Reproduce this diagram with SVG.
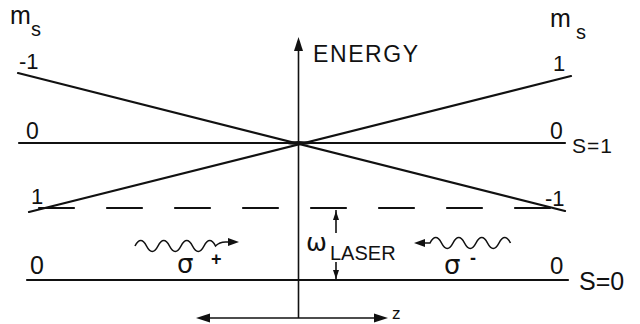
<svg xmlns="http://www.w3.org/2000/svg" width="640" height="324" viewBox="0 0 640 324">
<style>
.t{font-family:"Liberation Sans","DejaVu Sans",sans-serif;fill:#111}
.g{font-family:"DejaVu Sans","Liberation Sans",sans-serif;fill:#111}
.ln{stroke:#111;stroke-width:2.2;fill:none;stroke-linecap:round}
.ax{stroke:#111;stroke-width:1.6;fill:none}
.ah{fill:#111;stroke:none}
</style>
<rect width="640" height="324" fill="#fff"/>
<g id="connectors">
  <!-- energy axis -->
  <line class="ax" x1="298.5" y1="48" x2="298.5" y2="318"/>
  <polygon class="ah" points="298.5,37 294,51 303,51"/>
  <!-- z axis -->
  <line class="ax" x1="205" y1="318" x2="380" y2="318"/>
  <polygon class="ah" points="196,318 210,313.5 210,322.5"/>
  <polygon class="ah" points="388,318 374,313.5 374,322.5"/>
  <!-- S=1 levels -->
  <line class="ln" x1="19" y1="143" x2="565" y2="143"/>
  <line class="ln" x1="18" y1="73" x2="565" y2="211"/>
  <line class="ln" x1="29" y1="212" x2="571" y2="76"/>
  <path class="ah" d="M282,143 Q298,139 316,143 Q298,147 282,143 Z"/>
  <!-- dashed laser level -->
  <line class="ln" x1="39" y1="208" x2="550" y2="208" stroke-dasharray="35 33" stroke-linecap="butt"/>
  <!-- S=0 level -->
  <line class="ln" x1="27" y1="280" x2="568" y2="280"/>
  <!-- omega laser arrows -->
  <line class="ax" x1="336" y1="210" x2="336" y2="233" stroke-width="1.4"/>
  <polygon class="ah" points="336,211 333,220 339,220"/>
  <line class="ax" x1="336" y1="262" x2="336" y2="279" stroke-width="1.4"/>
  <polygon class="ah" points="336,279 333,270 339,270"/>
  <!-- sigma+ wave -->
  <path class="ax" d="M135,246 q5.75,-11 11.5,0 t11.5,0 t11.5,0 t11.5,0 t11.5,0 t11.5,0 t11.5,0 q4,-4 10,-4 L230,242"/>
  <polygon class="ah" points="239,242 228,238 228,246"/>
  <!-- sigma- wave -->
  <path class="ax" d="M424,243 L430,243 q5.75,-11 11.5,0 t11.5,0 t11.5,0 t11.5,0 t11.5,0 t11.5,0 t11.5,0"/>
  <polygon class="ah" points="414,243 425,239 425,247"/>
</g>
<g id="labels-left">
  <text class="t" x="10" y="24" font-size="25">m</text>
  <text class="t" x="31" y="36" font-size="20">s</text>
  <text class="t" x="19" y="69" font-size="22">-1</text>
  <text class="t" x="26" y="139" font-size="23">0</text>
  <text class="t" x="31" y="204" font-size="22">1</text>
  <text class="t" x="30" y="274" font-size="25">0</text>
</g>
<g id="labels-right">
  <text class="t" x="550" y="27" font-size="25">m</text>
  <text class="t" x="576" y="39" font-size="20">s</text>
  <text class="t" x="553" y="71" font-size="22">1</text>
  <text class="t" x="550" y="139" font-size="23">0</text>
  <text class="t" x="572" y="153" font-size="21" letter-spacing="1">S=1</text>
  <text class="t" x="545" y="206" font-size="22">-1</text>
  <text class="t" x="550" y="274" font-size="24">0</text>
  <text class="t" x="579" y="290" font-size="25">S=0</text>
</g>
<g id="energy-axis-label">
  <text class="t" x="313" y="62" font-size="23" letter-spacing="1.6">ENERGY</text>
  <text class="t" x="392" y="319" font-size="17">z</text>
</g>
<g id="laser-label">
  <text class="g" x="306" y="251" font-size="25">ω</text>
  <text class="t" x="330" y="260" font-size="20">LASER</text>
</g>
<g id="sigma-plus">
  <text class="g" x="177" y="273" font-size="26">σ</text>
  <text class="t" x="211" y="265" font-size="18" font-weight="bold">+</text>
</g>
<g id="sigma-minus">
  <text class="g" x="444" y="274" font-size="26">σ</text>
  <text class="t" x="470" y="264" font-size="18" font-weight="bold">-</text>
</g>
</svg>
